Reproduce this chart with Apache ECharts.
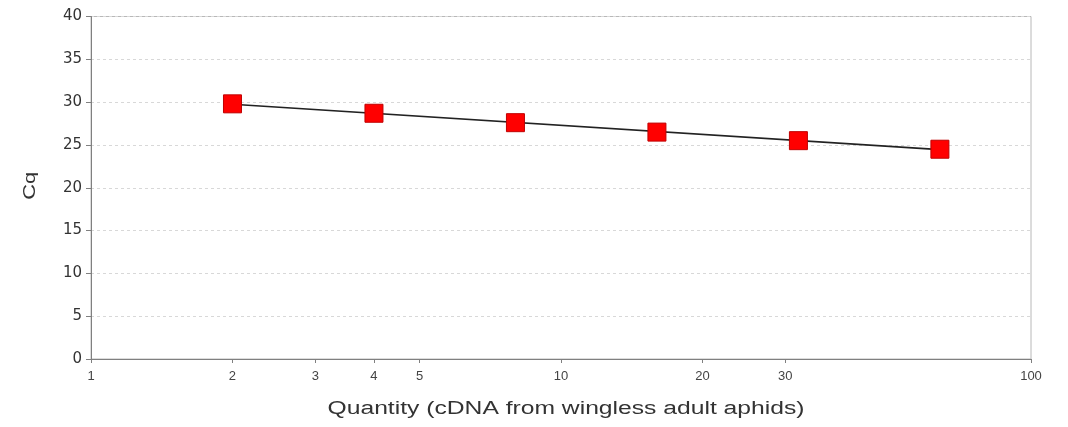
<!DOCTYPE html>
<html>
<head>
<meta charset="utf-8">
<script src="https://cdn.jsdelivr.net/npm/echarts@6/dist/echarts.min.js"></script>
<style>html,body{margin:0;padding:0;background:#fff}#c{width:1068px;height:427px}</style>
</head>
<body>
<div id="c"></div>
<script>
const quantities = [2, 4, 8, 16, 32, 64];
const cqValues = [29.8, 28.7, 27.6, 26.5, 25.5, 24.5];
const fitX = [2, 64];
const fitY = [29.75, 24.45];
const xTickValues = [1, 2, 3, 4, 5, 10, 20, 30, 100];
const xAxisTitle = 'Quantity (cDNA from wingless adult aphids)';
const yAxisTitle = 'Cq';

const chart = echarts.init(document.getElementById('c'), null, {renderer: 'canvas'});
const font = 'Liberation Sans, Arial, sans-serif';
chart.setOption({
  animation: false,
  backgroundColor: '#fff',
  grid: {left: 91, right: 37, top: 16.5, bottom: 68, show: true, borderColor: '#b8b8b8', borderWidth: 1},
  xAxis: {
    type: 'log', logBase: 10, min: 1, max: 100,
    axisLine: {show: true, lineStyle: {color: '#808080'}},
    axisTick: {show: true, customValues: xTickValues, length: 4, inside: false, lineStyle: {color: '#808080'}},
    axisLabel: {customValues: xTickValues, fontFamily: font, fontSize: 13, color: '#444', margin: 11},
    splitLine: {show: false},
    minorTick: {show: false}
  },
  yAxis: {
    type: 'value', min: 0, max: 40, interval: 5,
    axisLine: {show: true, lineStyle: {color: '#808080'}},
    axisTick: {show: true, length: 5, lineStyle: {color: '#808080'}},
    axisLabel: {fontFamily: 'DejaVu Sans, sans-serif', fontSize: 15, color: '#333', margin: 9},
    splitLine: {show: true, lineStyle: {color: '#d8d8d8', type: [3, 3]}}
  },
  series: [
    {
      type: 'line', data: fitX.map((x, i) => [x, fitY[i]]),
      symbol: 'none', lineStyle: {color: '#222', width: 1.6}, z: 2, silent: true
    },
    {
      type: 'scatter', data: quantities.map((q, i) => [q, cqValues[i]]),
      symbol: 'rect', symbolSize: 18,
      itemStyle: {color: '#f00', borderColor: '#c00000', borderWidth: 1, opacity: 1}, z: 3
    }
  ]
});

// axis titles, placed from the axes' own pixel mapping
const cx = chart.convertToPixel({xAxisIndex: 0}, 10);
const cy = chart.convertToPixel({yAxisIndex: 0}, 20);
const x0 = chart.convertToPixel({xAxisIndex: 0}, 1);
const y0 = chart.convertToPixel({yAxisIndex: 0}, 0);
chart.setOption({
  graphic: [
    {
      type: 'text', x: cx + 5, y: y0 + 50, scaleX: 1.37,
      style: {text: xAxisTitle, font: '18px Liberation Sans, Arial, sans-serif', fill: '#333', align: 'center', verticalAlign: 'middle'}
    },
    {
      type: 'text', x: x0 - 61, y: cy - 2, rotation: Math.PI / 2, scaleX: 1.29,
      style: {text: yAxisTitle, font: '17px Liberation Sans, Arial, sans-serif', fill: '#333', align: 'center', verticalAlign: 'middle'}
    }
  ]
});
</script>
</body>
</html>
